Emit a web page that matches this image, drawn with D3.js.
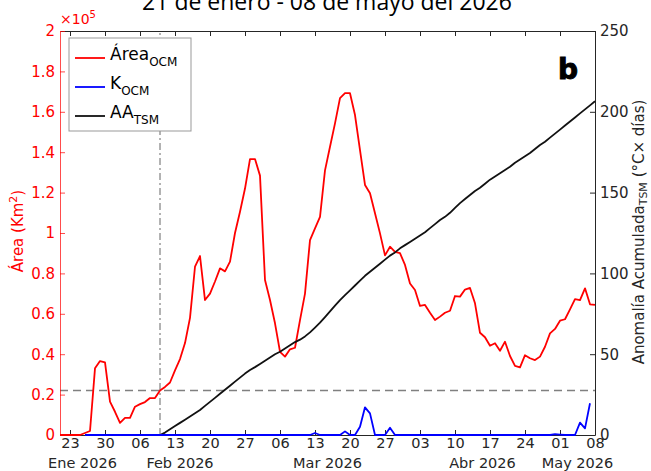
<!DOCTYPE html>
<html>
<head>
<meta charset="utf-8">
<script src="https://cdn.jsdelivr.net/npm/d3@7"></script>
<style>
  body { margin: 0; background: #fff; }
  svg { font-family: "DejaVu Sans", "Liberation Sans", Arial, sans-serif; }
</style>
</head>
<body>
<svg id="chart" width="651" height="471"></svg>
<script>

// daily series start dates
var areaStart = "2026-01-21";
var kStart = "2026-01-26";
var aaStart = "2026-02-10";

// Área OCM, in units of 1e5 km2, one value per day from 21 Jan
var areaOCM = [0, 0, 0, 0, 0, 0.01, 0.02, 0.33, 0.366, 0.36,
    0.165, 0.115, 0.06, 0.085, 0.085, 0.14, 0.153, 0.163, 0.183, 0.183,
    0.22, 0.238, 0.26, 0.32, 0.376, 0.455, 0.58, 0.833, 0.886, 0.668,
    0.70, 0.76, 0.825, 0.81, 0.858, 1.0, 1.105, 1.22, 1.366, 1.366,
    1.284, 0.767, 0.668, 0.553, 0.412, 0.388, 0.424, 0.432, 0.569, 0.70,
    0.965, 1.023, 1.08, 1.31, 1.427, 1.543, 1.668, 1.692, 1.692, 1.584,
    1.41, 1.238, 1.197, 1.098, 0.998, 0.889, 0.932, 0.907, 0.9, 0.842,
    0.75, 0.718, 0.639, 0.644, 0.605, 0.569, 0.586, 0.605, 0.615, 0.688,
    0.685, 0.72, 0.728, 0.652, 0.506, 0.484, 0.442, 0.454, 0.417, 0.462,
    0.391, 0.342, 0.335, 0.395, 0.38, 0.371, 0.388, 0.437, 0.503, 0.525,
    0.566, 0.573, 0.622, 0.673, 0.668, 0.726, 0.647, 0.644];

// K OCM, daily from 26 Jan (same left scale)
var kOCM = [0, 0, 0, 0, 0, 0, 0, 0, 0, 0,
    0, 0, 0, 0, 0, 0, 0, 0, 0, 0,
    0, 0, 0, 0, 0, 0, 0, 0, 0, 0,
    0, 0, 0, 0, 0, 0, 0, 0, 0, 0,
    0, 0, 0, 0, 0, 0, 0.01, 0, 0, 0,
    0, 0, 0.018, 0, 0, 0.041, 0.137, 0.107, 0, 0,
    0, 0.036, 0, 0, 0, 0, 0, 0, 0, 0,
    0, 0, 0, 0, 0, 0, 0, 0, 0, 0,
    0, 0, 0, 0, 0, 0, 0, 0, 0, 0,
    0, 0, 0, 0, 0.004, 0.002, 0, 0, 0, 0.061,
    0.033, 0.157];

// AA TSM (°C x días), daily from 10 Feb, right axis
var aaTSM = [0, 1.5, 3.5, 5.5, 7.5, 9.5, 11.5, 13.5, 15.5, 18,
    20.5, 23, 25.5, 28, 30.5, 33, 35.5, 38, 40.2, 42,
    44, 46, 48, 50, 51.5, 53.5, 55.5, 57.5, 59, 61,
    63.5, 66.5, 69.5, 73, 76.5, 80, 83.5, 86.5, 89.5, 92.5,
    95.5, 98.5, 101, 103.5, 106, 108.5, 111, 113, 115.5, 117.5,
    119.5, 121.5, 123.5, 125.5, 128, 130.5, 133, 135, 137.5, 140.5,
    143.5, 146, 148.5, 151, 153, 155.5, 158, 160, 162, 164,
    166, 168.5, 170.5, 172.5, 174.5, 177, 179.5, 181.5, 184, 186.5,
    189, 191.5, 194, 196.5, 199, 201.5, 204, 206.5];

var threshold = 0.22;          // dashed reference line (1e5 km2)
var markerDate = "2026-02-10"; // dash-dot vertical line

var dayTicks = ["2026-01-23", "2026-01-30", "2026-02-06", "2026-02-13", "2026-02-20",
    "2026-02-27", "2026-03-06", "2026-03-13", "2026-03-20", "2026-03-27", "2026-04-03",
    "2026-04-10", "2026-04-17", "2026-04-24", "2026-05-01", "2026-05-08"];
var monthLabels = ["Ene 2026", "Feb 2026", "Mar 2026", "Abr 2026", "May 2026"];
var monthAnchors = ["2026-01-25T12:00", "2026-02-14T00:00", "2026-03-15T12:00", "2026-04-15T12:00", "2026-05-04T12:00"];
var leftTicks = [0, 0.2, 0.4, 0.6, 0.8, 1, 1.2, 1.4, 1.6, 1.8, 2];
var rightTicks = [0, 50, 100, 150, 200, 250];

var parse = d3.timeParse("%Y-%m-%d");
var parseT = d3.timeParse("%Y-%m-%dT%H:%M");

function daily(start, values) {
    var t0 = parse(start);
    return values.map(function(v, i) {
        return {date: d3.timeDay.offset(t0, i), value: v};
    });
}

var margin = {left: 60, right: 56, top: 31, bottom: 36};
var W = 651, H = 471;

var svg = d3.select("#chart");

var x = d3.scaleTime()
    .domain([parse("2026-01-21"), parse("2026-05-08")])
    .range([margin.left, W - margin.right]);
var yL = d3.scaleLinear().domain([0, 2]).range([H - margin.bottom, margin.top]);
var yR = d3.scaleLinear().domain([0, 250]).range([H - margin.bottom, margin.top]);

var axisGrey = "#262626";
var red = "#ff0000";

// title (partly cut at the top)
svg.append("text")
    .attr("x", 327)
    .attr("y", 10)
    .attr("text-anchor", "middle")
    .attr("font-family", "'Open Sans', sans-serif")
    .attr("font-size", 23)
    .attr("fill", "#000")
    .text("21 de enero - 08 de mayo del 2026");

// reference lines
svg.append("line")
    .attr("x1", x.range()[0]).attr("x2", x.range()[1])
    .attr("y1", yL(threshold)).attr("y2", yL(threshold))
    .attr("stroke", "#808080").attr("stroke-width", 1.5)
    .attr("stroke-dasharray", "8,5");

svg.append("line")
    .attr("x1", x(parse(markerDate))).attr("x2", x(parse(markerDate)))
    .attr("y1", yL.range()[0]).attr("y2", yL.range()[1])
    .attr("stroke", "#666").attr("stroke-width", 1)
    .attr("stroke-dasharray", "7,3,2,3");

// axes
var xAxisBottom = svg.append("g")
    .attr("transform", "translate(0," + yL.range()[0] + ")")
    .call(d3.axisBottom(x)
        .tickValues(dayTicks.map(parse))
        .tickFormat(d3.timeFormat("%d"))
        .tickSize(-5).tickSizeOuter(0).tickPadding(3));
xAxisBottom.selectAll("path, line").attr("stroke", axisGrey);
xAxisBottom.selectAll("text").attr("fill", axisGrey).attr("font-size", 14.5)
    .attr("font-family", "'DejaVu Sans', sans-serif");

var xAxisTop = svg.append("g")
    .attr("transform", "translate(0," + yL.range()[1] + ")")
    .call(d3.axisTop(x)
        .tickValues(dayTicks.map(parse))
        .tickFormat("")
        .tickSize(-5).tickSizeOuter(0));
xAxisTop.selectAll("path, line").attr("stroke", axisGrey);

var yAxisLeft = svg.append("g")
    .attr("transform", "translate(" + x.range()[0] + ",0)")
    .call(d3.axisLeft(yL)
        .tickValues(leftTicks)
        .tickFormat(function(d) { return String(+d.toFixed(1)); })
        .tickSize(-5).tickSizeOuter(0).tickPadding(5));
yAxisLeft.selectAll("path, line").attr("stroke", red).attr("stroke-opacity", 0.7);
yAxisLeft.selectAll("text").attr("fill", red).attr("font-size", 15)
    .attr("font-family", "'DejaVu Sans', sans-serif");

var yAxisRight = svg.append("g")
    .attr("transform", "translate(" + x.range()[1] + ",0)")
    .call(d3.axisRight(yR)
        .tickValues(rightTicks)
        .tickSize(-5).tickSizeOuter(0).tickPadding(5));
yAxisRight.selectAll("path, line").attr("stroke", axisGrey);
yAxisRight.selectAll("text").attr("fill", axisGrey).attr("font-size", 15)
    .attr("font-family", "'DejaVu Sans', sans-serif");

// month labels
svg.append("g").selectAll("text")
    .data(monthLabels)
    .enter().append("text")
    .attr("x", function(d, i) { return x(parseT(monthAnchors[i])); })
    .attr("y", 467.5)
    .attr("text-anchor", "middle")
    .attr("font-size", 14.5)
    .attr("fill", axisGrey)
    .text(function(d) { return d; });

// x10^5 multiplier
var mult = svg.append("text")
    .attr("x", 60).attr("y", 24)
    .attr("font-size", 14)
    .attr("fill", red);
mult.append("tspan").text("\u00d710");
mult.append("tspan").attr("dy", -6).attr("font-size", 10).text("5");

// axis titles
var lt = svg.append("text")
    .attr("transform", "translate(23,231) rotate(-90)")
    .attr("text-anchor", "middle")
    .attr("font-size", 15)
    .attr("fill", red);
lt.append("tspan").text("\u00c1rea (Km");
lt.append("tspan").attr("dy", -6).attr("font-size", 11).text("2");
lt.append("tspan").attr("dy", 6).text(")");

var rt = svg.append("text")
    .attr("transform", "translate(644,232) rotate(-90)")
    .attr("text-anchor", "middle")
    .attr("font-size", 15)
    .attr("fill", axisGrey);
rt.append("tspan").text("Anomal\u00eda Acumulada");
rt.append("tspan").attr("dy", 3).attr("font-size", 11).text("TSM");
rt.append("tspan").attr("dy", -3).text(" (\u00b0C\u00d7 d\u00edas)");

// series
var lineL = d3.line()
    .x(function(d) { return x(d.date); })
    .y(function(d) { return yL(d.value); });
var lineR = d3.line()
    .x(function(d) { return x(d.date); })
    .y(function(d) { return yR(d.value); });

svg.append("path")
    .datum(daily(areaStart, areaOCM))
    .attr("d", lineL)
    .attr("fill", "none").attr("stroke", red).attr("stroke-width", 1.8)
    .attr("stroke-linejoin", "round");

svg.append("path")
    .datum(daily(aaStart, aaTSM))
    .attr("d", lineR)
    .attr("fill", "none").attr("stroke", "#111").attr("stroke-width", 1.8)
    .attr("stroke-linejoin", "round");

svg.append("path")
    .datum(daily(kStart, kOCM))
    .attr("d", lineL)
    .attr("fill", "none").attr("stroke", "#0000ff").attr("stroke-width", 1.8)
    .attr("stroke-linejoin", "round");

// legend
var legendItems = [
    {name: "\u00c1rea", sub: "OCM", color: red},
    {name: "K", sub: "OCM", color: "#0000ff"},
    {name: "AA", sub: "TSM", color: "#111"}
];
var legend = svg.append("g").attr("transform", "translate(69,38)");
legend.append("rect")
    .attr("width", 122).attr("height", 93)
    .attr("fill", "#fff").attr("stroke", "#999").attr("stroke-width", 1);
var item = legend.selectAll("g.item")
    .data(legendItems)
    .enter().append("g")
    .attr("class", "item")
    .attr("transform", function(d, i) { return "translate(0," + (20 + i * 29) + ")"; });
item.append("line")
    .attr("x1", 6).attr("x2", 36)
    .attr("stroke", function(d) { return d.color; })
    .attr("stroke-width", 1.8);
var itemText = item.append("text")
    .attr("x", 41).attr("y", 2)
    .attr("font-size", 17)
    .attr("fill", "#000");
itemText.append("tspan").text(function(d) { return d.name; });
itemText.append("tspan").attr("dy", 6).attr("font-size", 12).text(function(d) { return d.sub; });

// panel letter
svg.append("text")
    .attr("x", 568).attr("y", 79)
    .attr("text-anchor", "middle")
    .attr("font-size", 28)
    .attr("font-weight", "bold")
    .attr("stroke", "#000").attr("stroke-width", 1)
    .attr("fill", "#000")
    .text("b");

</script>
</body>
</html>
